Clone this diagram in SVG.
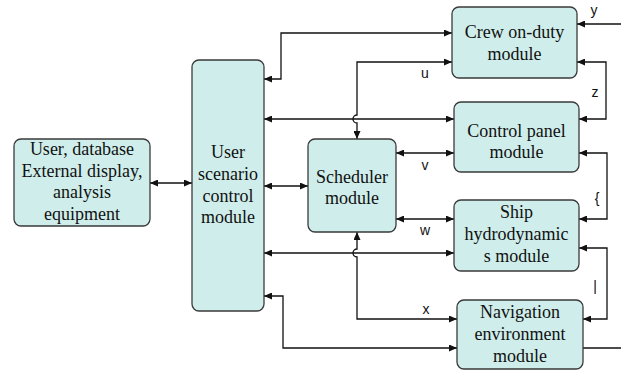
<svg xmlns="http://www.w3.org/2000/svg" width="621" height="372" viewBox="0 0 621 372">
  <style>
    .box { fill: #cfeeeb; stroke: #3a3a3a; stroke-width: 1.3; }
    .lbl { font-family: 'Liberation Serif', 'Times New Roman', serif; font-size: 18px; fill: #111; text-anchor: middle; }
    .sig { font-family: 'Liberation Sans', Arial, sans-serif; font-size: 14px; fill: #111; text-anchor: middle; }
    .wire { fill: none; stroke: #111; stroke-width: 1.3; }
    .both { marker-start: url(#ah); marker-end: url(#ah); }
    .end { marker-end: url(#ah); }
  </style>
  <defs>
    <marker id="ah" viewBox="0 0 8 7" refX="8" refY="3.5" markerWidth="8" markerHeight="7" markerUnits="userSpaceOnUse" orient="auto-start-reverse">
      <path d="M0,0 L8,3.5 L0,7 z" fill="#111"/>
    </marker>
  </defs>
  <rect width="621" height="372" fill="#fff"/>

  <!-- connectors; vertical wires hop over the horizontal ones they cross -->
  <g id="connectors">
    <path class="wire both" d="M264,79 H281 V33 H452"/>
    <path class="wire both" d="M452,62 H357 V115 A4,4 0 0 0 357,123 V139"/>
    <path class="wire both" d="M264,119 H454"/>
    <path class="wire both" d="M150,183 H192"/>
    <path class="wire both" d="M264,186 H308"/>
    <path class="wire both" d="M396,153 H454"/>
    <path class="wire both" d="M396,219 H454"/>
    <path class="wire both" d="M264,253 H454"/>
    <path class="wire both" d="M357,232 V249 A4,4 0 0 0 357,257 V319 H457"/>
    <path class="wire both" d="M264,296 H283 V348 H457"/>
    <path class="wire end" d="M621,24 H577"/>
    <path class="wire both" d="M577,62 H606 V119 H579"/>
    <path class="wire both" d="M579,153 H607 V219 H579"/>
    <path class="wire both" d="M579,248 H607 V319 H583"/>
    <path class="wire" d="M583,348 H621"/>
    <text class="sig" x="425" y="78">u</text>
    <text class="sig" x="425" y="170">v</text>
    <text class="sig" x="425" y="235">w</text>
    <text class="sig" x="426" y="314">x</text>
    <text class="sig" x="594" y="15">y</text>
    <text class="sig" x="595" y="97">z</text>
    <text class="sig" x="597" y="203">{</text>
    <text class="sig" x="595" y="291">|</text>
  </g>

  <g id="external">
    <rect class="box" x="14" y="139" width="136" height="87" rx="7"/>
    <text class="lbl" x="82" y="155">User, database</text>
    <text class="lbl" x="82" y="177">External display,</text>
    <text class="lbl" x="82" y="198">analysis</text>
    <text class="lbl" x="82" y="220">equipment</text>
  </g>

  <g id="scenario">
    <rect class="box" x="192" y="60" width="72" height="251" rx="7"/>
    <text class="lbl" x="228" y="158">User</text>
    <text class="lbl" x="228" y="180">scenario</text>
    <text class="lbl" x="228" y="202">control</text>
    <text class="lbl" x="228" y="223">module</text>
  </g>

  <g id="scheduler">
    <rect class="box" x="308" y="139" width="88" height="93" rx="7"/>
    <text class="lbl" x="352" y="183">Scheduler</text>
    <text class="lbl" x="352" y="204">module</text>
  </g>

  <g id="crew">
    <rect class="box" x="452" y="7" width="125" height="71" rx="7"/>
    <text class="lbl" x="514.5" y="38">Crew on-duty</text>
    <text class="lbl" x="514.5" y="60">module</text>
  </g>

  <g id="panel">
    <rect class="box" x="454" y="102" width="125" height="70" rx="7"/>
    <text class="lbl" x="516.5" y="137">Control panel</text>
    <text class="lbl" x="516.5" y="158">module</text>
  </g>

  <g id="hydro">
    <rect class="box" x="454" y="200" width="125" height="71" rx="7"/>
    <text class="lbl" x="516.5" y="218">Ship</text>
    <text class="lbl" x="516.5" y="240">hydrodynamic</text>
    <text class="lbl" x="516.5" y="262">s module</text>
  </g>

  <g id="navigation">
    <rect class="box" x="457" y="300" width="126" height="69" rx="7"/>
    <text class="lbl" x="520" y="318">Navigation</text>
    <text class="lbl" x="520" y="340">environment</text>
    <text class="lbl" x="520" y="362">module</text>
  </g>
</svg>
